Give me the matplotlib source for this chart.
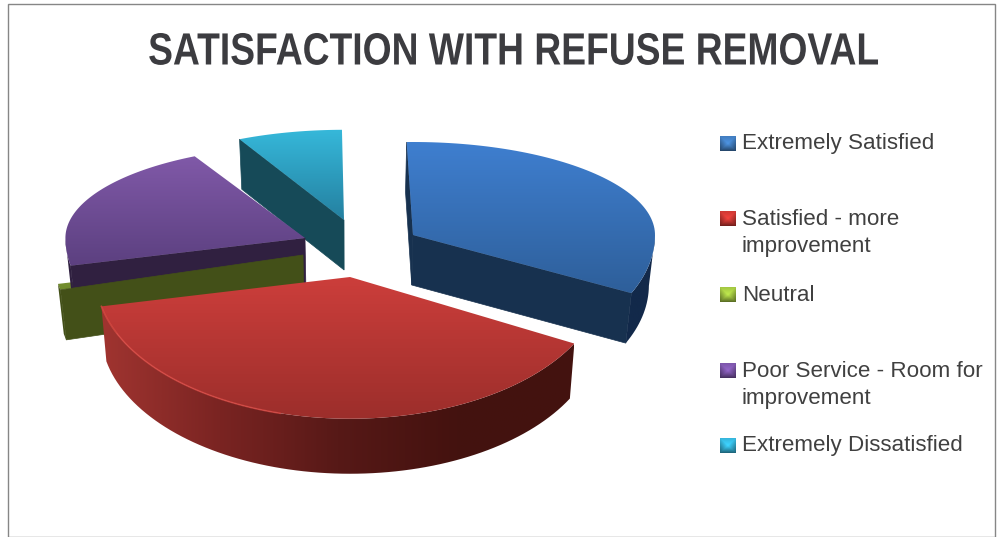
import numpy as np
import matplotlib
matplotlib.use("Agg")
import matplotlib.pyplot as plt
from matplotlib.colors import to_rgb
from matplotlib.patches import Polygon, Rectangle
from matplotlib.patheffects import AbstractPathEffect
from matplotlib.transforms import Affine2D

categories = ["Extremely Satisfied", "Satisfied - more\nimprovement", "Neutral",
              "Poor Service - Room for\nimprovement", "Extremely Dissatisfied"]
values = [32.5, 38.9, 0.7, 20.7, 7.2]
title = "SATISFACTION WITH REFUSE REMOVAL"

# pie geometry in pixels
center = (350, 243)
shift_x = [63, 0, -47, -45, -6]
shift_y = [-8, 34, 12, -5, -23]
radius = [1.0, 1.05, 1.035, 0.99, 0.97]
turn = [0, 2.5, 0, 0, 1]
depth = [50, 55, 50, 50, 50]
rx, ry_back, ry_front = 242, 93, 135
start_angle = -1.5

# colours: top face gradient (back to front), cut face, rim gradient (left to right)
top_cols = [("#3f7fd0", "#2e5f9a"), ("#cc3e3b", "#9c2e2b"), ("#8aa33a", "#6f8a2c"),
            ("#8059a8", "#5c4080"), ("#36b8da", "#2480a0")]
cut_cols = ["#17314f", "#4a0f0c", "#435018", "#302040", "#164a58"]
rim_cols = [("#12294a", "#14294a"), ("#a03430", "#7a2422", "#571917", "#44120f", "#43130f"),
            ("#435018", "#435018"), ("#302040", "#302040"), ("#164a58", "#164a58")]
key_cols = ["#3a6ea8", "#b5322e", "#8fae3a", "#6e4c96", "#2f9fc0"]
key_y = [143.5, 219, 294.5, 371, 446]
label_y = [143.5, 233, 295.5, 385, 445.5]

fig = plt.figure(figsize=(9.98, 5.37), dpi=100)
ax = fig.add_axes([0, 0, 1, 1])


class Squeeze(AbstractPathEffect):
    # narrows the glyphs around a fixed display x
    def __init__(self, sx, cx):
        super().__init__()
        self.sx, self.cx = sx, cx

    def draw_path(self, renderer, gc, tpath, affine, rgbFace=None):
        squeeze = Affine2D().translate(-self.cx, 0).scale(self.sx, 1).translate(self.cx, 0)
        renderer.draw_path(gc, tpath, affine + squeeze, rgbFace)


def gradient(pts, cols, zorder, horizontal=False):
    pts = np.array(pts)
    stops = np.array([to_rgb(c) for c in cols])
    t = np.linspace(0, 1, 128)
    ramp = np.stack([np.interp(t, np.linspace(0, 1, len(cols)), stops[:, i]) for i in range(3)], axis=-1)
    img = ramp[None, :, :] if horizontal else ramp[:, None, :]
    im = ax.imshow(img, extent=(pts[:, 0].min(), pts[:, 0].max(), pts[:, 1].max(), pts[:, 1].min()),
                   aspect="auto", zorder=zorder, interpolation="bilinear")
    im.set_clip_path(Polygon(pts, closed=True, transform=ax.transData))


def on_ellipse(theta, apex, scale):
    # the front half of the pie is stretched by the perspective
    ry = np.where(np.cos(theta) > 0, ry_back, ry_front)
    return np.column_stack([apex[0] + scale * rx * np.sin(theta),
                            apex[1] - scale * ry * np.cos(theta)])


def lowered(pts, h):
    # vertical edges lean slightly towards the middle of the pie
    pts = np.atleast_2d(pts)
    return np.column_stack([pts[:, 0] - 0.02 * (pts[:, 0] - center[0]), pts[:, 1] + h])


edges = start_angle + np.concatenate([[0], np.cumsum(values)]) * 360 / sum(values)
slices = []
for i in range(len(values)):
    apex = (center[0] + shift_x[i], center[1] + shift_y[i])
    th = np.radians(np.linspace(edges[i], edges[i + 1], 80) + turn[i])
    slices.append((apex, th, on_ellipse(th, apex, radius[i])))


def draw_top(i, z):
    apex, th, arc = slices[i]
    gradient(np.vstack([[apex], arc]), top_cols[i], z)


def draw_sides(i, z):
    apex, th, arc = slices[i]
    h = depth[i]
    # radial faces only show when they turn towards the viewer
    if np.sin(th[-1]) > 0:
        face = np.array([apex, arc[-1]])
        ax.add_patch(Polygon(np.vstack([face, lowered(face, h)[::-1]]), color=cut_cols[i], zorder=z, lw=0.5))
    if np.sin(th[0]) < 0:
        face = np.array([apex, arc[0]])
        ax.add_patch(Polygon(np.vstack([face, lowered(face, h)[::-1]]), color=cut_cols[i], zorder=z, lw=0.5))
    front = (th >= np.pi / 2) & (th <= 3 * np.pi / 2)
    if front.sum() > 1:
        rim = arc[front]
        gradient(np.vstack([rim, lowered(rim, h)[::-1]]), rim_cols[i], z, horizontal=True)


# back to front
for z, (i, part) in enumerate([(4, "sides"), (4, "top"), (2, "top"), (3, "sides"), (3, "top"),
                               (2, "sides"), (1, "sides"), (1, "top"), (0, "sides"), (0, "top")]):
    if part == "top":
        draw_top(i, z + 2)
    else:
        draw_sides(i, z + 2)

# pale bevel along the near edge of the big slice
apex, th, arc = slices[1]
ax.plot(arc[-36:, 0], arc[-36:, 1], color="#dd4a44", lw=1.2, alpha=0.7, zorder=14)

ax.add_patch(Rectangle((8.5, 3.5), 987, 533, fill=False, ec="#868686", lw=1, zorder=1))
ax.text(513.5, 53, title, family="Liberation Sans", weight="bold", fontsize=32.5, color="#3c3c40",
        ha="center", va="center", zorder=20, path_effects=[Squeeze(0.825, 513.5)])

for name, col, ky, ly in zip(categories, key_cols, key_y, label_y):
    c = np.array(to_rgb(col))
    u = np.linspace(-1, 1, 16)
    d = np.maximum.outer(np.abs(u), np.abs(u))
    shade = (1.35 - 0.45 * d - 0.25 * u[:, None])[:, :, None]
    ax.imshow(np.clip(c * shade, 0, 1), extent=(720, 736, ky + 7.5, ky - 7.5), aspect="auto", zorder=15)
    ax.text(742, ly, name, family="Liberation Sans", fontsize=16.1, color="#404040", va="center",
            linespacing=1.43, zorder=20)

ax.set_xlim(0, 998)
ax.set_ylim(537, 0)
ax.axis("off")
fig.savefig("out.png", dpi=100, facecolor="white")
